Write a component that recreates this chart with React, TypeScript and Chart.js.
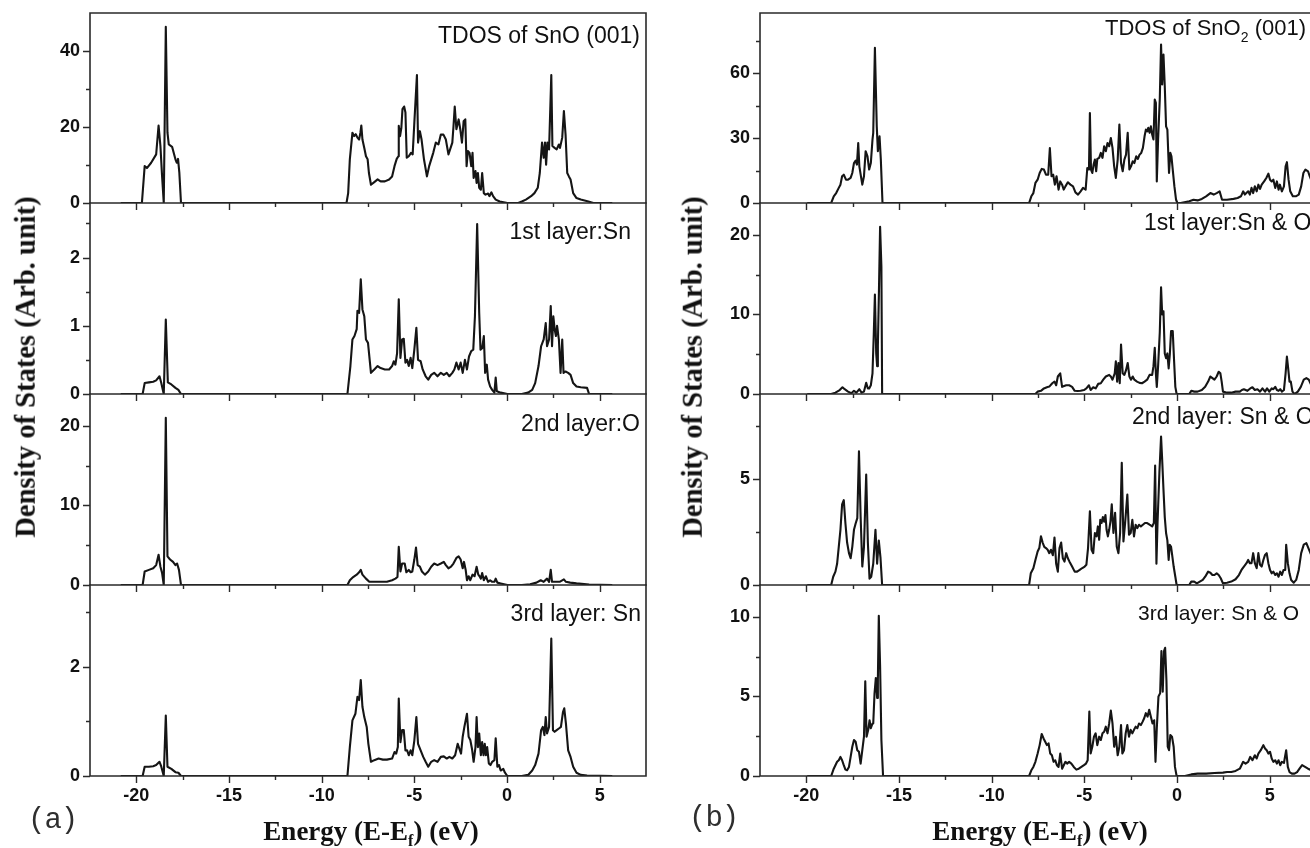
import React, { useEffect, useRef } from 'react';
import { Chart, registerables } from 'chart.js';

Chart.register(...registerables);

type Pt = [number, number];

// ---------- axis ticks ----------
const xMajorTicks = [-20, -15, -10, -5, 0, 5];
const xMinorTicks = [-17.5, -12.5, -7.5, -2.5, 2.5];
const X_MIN = -22.5;
const X_MAX = 7.5;

// ---------- (a) SnO (001) ----------
const snoTotal: Pt[] = [
  [-20.84, 0], [-19.7, 0], [-19.55, 9.7], [-19.43, 9.2], [-19.2, 10.6], [-18.93, 12.8], [-18.8, 20.4], [-18.7, 15.0],
  [-18.61, 7.0], [-18.52, 0], [-18.41, 46.4], [-18.32, 18.5], [-18.25, 15.4], [-18.07, 14.8], [-17.89, 11.5], [-17.82, 10.6],
  [-17.75, 11.6], [-17.68, 8.0], [-17.59, 0], [-8.66, 0], [-8.57, 2.6], [-8.48, 11.5], [-8.34, 18.5], [-8.25, 17.6],
  [-8.16, 18.1], [-8.07, 17.2], [-7.98, 16.7], [-7.91, 18.5], [-7.86, 20.4], [-7.8, 16.7], [-7.7, 14.5], [-7.61, 12.3],
  [-7.52, 11.5], [-7.45, 7.9], [-7.34, 4.8], [-7.16, 5.5], [-6.98, 6.2], [-6.82, 5.7], [-6.59, 5.7], [-6.36, 6.2],
  [-6.2, 7.0], [-6.07, 9.7], [-5.95, 11.6], [-5.86, 12.3], [-5.84, 20.3], [-5.77, 17.6], [-5.7, 19.8], [-5.64, 24.7],
  [-5.55, 25.4], [-5.48, 23.8], [-5.41, 11.9], [-5.3, 12.3], [-5.18, 13.2], [-5.09, 12.8], [-5.0, 21.1], [-4.86, 33.7],
  [-4.8, 15.9], [-4.7, 18.9], [-4.61, 16.7], [-4.48, 11.5], [-4.32, 7.0], [-4.2, 9.7], [-3.98, 13.2], [-3.84, 15.9],
  [-3.7, 15.4], [-3.57, 18.0], [-3.43, 18.0], [-3.3, 16.7], [-3.16, 12.8], [-3.07, 14.1], [-2.95, 15.9], [-2.89, 20.0],
  [-2.82, 25.4], [-2.73, 19.4], [-2.61, 22.0], [-2.52, 19.4], [-2.43, 15.9], [-2.34, 21.5], [-2.25, 22.0], [-2.18, 9.7],
  [-2.11, 13.7], [-2.02, 13.2], [-1.93, 9.7], [-1.86, 13.2], [-1.8, 6.6], [-1.7, 8.4], [-1.64, 5.3], [-1.57, 7.9],
  [-1.5, 4.0], [-1.41, 3.5], [-1.34, 7.9], [-1.25, 2.6], [-1.16, 2.2], [-1.02, 2.5], [-0.95, 1.8], [-0.84, 2.8],
  [-0.75, 1.8], [-0.61, 0.9], [-0.39, 0.4], [0.02, 0], [0.61, 0], [0.8, 0.4], [1.02, 0.9], [1.3, 1.8],
  [1.48, 2.6], [1.66, 4.0], [1.77, 7.9], [1.89, 15.9], [1.98, 11.9], [2.05, 15.9], [2.11, 10.1], [2.18, 15.9],
  [2.27, 14.1], [2.39, 33.7], [2.45, 15.0], [2.57, 14.5], [2.68, 14.1], [2.8, 15.4], [2.86, 14.5], [2.98, 17.2],
  [3.07, 24.2], [3.16, 18.0], [3.25, 7.9], [3.34, 7.0], [3.43, 6.2], [3.57, 2.6], [3.75, 1.3], [3.98, 0.9],
  [4.39, 0.4], [4.66, 0], [5.68, 0],
];

const snoLayer1Sn: Pt[] = [
  [-20.84, 0], [-19.66, 0], [-19.55, 0.16], [-19.32, 0.17], [-19.09, 0.18], [-18.93, 0.2], [-18.75, 0.26], [-18.66, 0.17],
  [-18.52, 0], [-18.41, 1.09], [-18.3, 0.17], [-18.11, 0.14], [-17.89, 0.09], [-17.73, 0.06], [-17.59, 0], [-8.61, 0],
  [-8.45, 0.41], [-8.34, 0.8], [-8.23, 0.85], [-8.11, 0.95], [-8.07, 1.22], [-7.98, 1.19], [-7.89, 1.68], [-7.8, 1.24],
  [-7.7, 1.14], [-7.61, 0.8], [-7.5, 0.75], [-7.34, 0.31], [-7.16, 0.36], [-6.98, 0.41], [-6.82, 0.38], [-6.59, 0.36],
  [-6.36, 0.36], [-6.2, 0.41], [-6.11, 0.48], [-6.02, 0.43], [-5.93, 0.6], [-5.84, 1.39], [-5.75, 0.53], [-5.66, 0.8],
  [-5.57, 0.81], [-5.48, 0.46], [-5.39, 0.5], [-5.3, 0.41], [-5.2, 0.53], [-5.11, 0.38], [-5.0, 0.65], [-4.89, 0.97],
  [-4.8, 0.5], [-4.66, 0.48], [-4.55, 0.36], [-4.39, 0.26], [-4.25, 0.21], [-4.09, 0.28], [-3.93, 0.31], [-3.75, 0.26],
  [-3.57, 0.31], [-3.41, 0.28], [-3.25, 0.31], [-3.11, 0.26], [-2.95, 0.31], [-2.84, 0.36], [-2.73, 0.46], [-2.61, 0.36],
  [-2.5, 0.46], [-2.39, 0.31], [-2.27, 0.5], [-2.16, 0.36], [-2.05, 0.55], [-1.93, 0.63], [-1.82, 0.65], [-1.73, 1.14],
  [-1.61, 2.49], [-1.5, 1.19], [-1.43, 0.65], [-1.34, 0.67], [-1.25, 0.85], [-1.18, 0.31], [-1.09, 0.43], [-1.02, 0.21],
  [-0.91, 0.11], [-0.8, 0.06], [-0.68, 0.02], [-0.61, 0.24], [-0.55, 0.04], [-0.34, 0.02], [0.02, 0], [0.8, 0],
  [1.14, 0.02], [1.36, 0.06], [1.52, 0.16], [1.7, 0.41], [1.84, 0.7], [1.98, 0.8], [2.09, 1.04], [2.16, 0.7],
  [2.27, 0.8], [2.36, 1.29], [2.43, 0.7], [2.5, 1.14], [2.57, 0.95], [2.64, 0.85], [2.7, 1.0], [2.8, 0.8],
  [2.89, 0.31], [2.98, 0.8], [3.05, 0.31], [3.16, 0.33], [3.3, 0.31], [3.43, 0.28], [3.57, 0.16], [3.75, 0.11],
  [3.98, 0.1], [4.32, 0.09], [4.43, 0], [5.68, 0],
];

const snoLayer2O: Pt[] = [
  [-20.84, 0], [-19.66, 0], [-19.55, 1.7], [-19.32, 1.9], [-19.09, 2.1], [-18.93, 2.5], [-18.8, 3.8], [-18.7, 2.3],
  [-18.61, 1.5], [-18.52, 0], [-18.41, 21.0], [-18.32, 3.6], [-18.18, 3.2], [-18.02, 2.9], [-17.89, 2.5], [-17.8, 2.7],
  [-17.7, 1.9], [-17.59, 0], [-8.61, 0], [-8.48, 0.6], [-8.3, 1.0], [-8.11, 1.3], [-7.98, 1.6], [-7.89, 1.9],
  [-7.8, 1.3], [-7.61, 0.8], [-7.43, 0.4], [-7.16, 0.4], [-6.82, 0.4], [-6.48, 0.4], [-6.2, 0.6], [-6.02, 0.8],
  [-5.91, 1.0], [-5.84, 4.8], [-5.75, 1.7], [-5.66, 2.7], [-5.52, 2.7], [-5.43, 1.6], [-5.3, 1.9], [-5.2, 1.6],
  [-5.11, 1.7], [-5.0, 3.2], [-4.91, 4.7], [-4.82, 2.5], [-4.7, 2.3], [-4.59, 1.7], [-4.43, 1.3], [-4.25, 1.7],
  [-4.09, 2.3], [-3.93, 2.7], [-3.75, 2.5], [-3.57, 2.7], [-3.41, 2.9], [-3.3, 2.5], [-3.16, 2.1], [-3.02, 2.3],
  [-2.89, 2.7], [-2.73, 3.4], [-2.61, 3.6], [-2.5, 3.2], [-2.39, 2.1], [-2.32, 2.9], [-2.23, 1.9], [-2.16, 0.6],
  [-2.07, 1.1], [-1.98, 0.6], [-1.86, 1.3], [-1.75, 1.1], [-1.64, 2.3], [-1.55, 1.3], [-1.48, 1.1], [-1.41, 0.8],
  [-1.34, 1.5], [-1.25, 0.6], [-1.14, 1.1], [-1.02, 0.4], [-0.91, 0.6], [-0.8, 0.4], [-0.68, 0.4], [-0.61, 0.8],
  [-0.52, 0.3], [-0.34, 0.2], [0.02, 0], [0.8, 0], [1.25, 0.1], [1.59, 0.3], [1.82, 0.6], [1.98, 0.4],
  [2.16, 0.8], [2.27, 0.4], [2.36, 1.9], [2.43, 0.4], [2.57, 0.4], [2.84, 0.4], [3.07, 0.7], [3.18, 0.4],
  [3.41, 0.3], [3.75, 0.2], [4.43, 0.05], [5.68, 0],
];

const snoLayer3Sn: Pt[] = [
  [-20.84, 0], [-19.66, 0], [-19.55, 0.17], [-19.32, 0.17], [-19.09, 0.18], [-18.93, 0.2], [-18.75, 0.26], [-18.66, 0.18],
  [-18.52, 0], [-18.41, 1.11], [-18.32, 0.17], [-18.11, 0.13], [-17.89, 0.07], [-17.73, 0.06], [-17.59, 0], [-8.61, 0],
  [-8.48, 0.53], [-8.34, 1.02], [-8.18, 1.14], [-8.07, 1.45], [-7.98, 1.39], [-7.89, 1.76], [-7.8, 1.27], [-7.7, 1.08],
  [-7.57, 0.9], [-7.48, 0.59], [-7.34, 0.26], [-7.16, 0.29], [-6.93, 0.32], [-6.7, 0.3], [-6.48, 0.3], [-6.2, 0.32],
  [-6.07, 0.44], [-5.98, 0.41], [-5.89, 0.53], [-5.84, 1.42], [-5.75, 0.62], [-5.66, 0.84], [-5.57, 0.84], [-5.48, 0.47],
  [-5.39, 0.47], [-5.3, 0.38], [-5.2, 0.47], [-5.11, 0.38], [-5.0, 0.65], [-4.89, 1.08], [-4.8, 0.59], [-4.66, 0.47],
  [-4.52, 0.35], [-4.39, 0.26], [-4.25, 0.17], [-4.09, 0.26], [-3.93, 0.29], [-3.75, 0.26], [-3.57, 0.35], [-3.41, 0.36],
  [-3.25, 0.32], [-3.11, 0.35], [-2.95, 0.32], [-2.8, 0.38], [-2.66, 0.59], [-2.57, 0.5], [-2.48, 0.41], [-2.39, 0.72],
  [-2.3, 0.9], [-2.16, 1.14], [-2.07, 0.72], [-1.98, 0.66], [-1.89, 0.5], [-1.8, 0.26], [-1.7, 0.53], [-1.64, 1.08],
  [-1.57, 0.53], [-1.5, 0.78], [-1.41, 0.38], [-1.34, 0.62], [-1.27, 0.38], [-1.2, 0.59], [-1.14, 0.38], [-1.07, 0.53],
  [-0.98, 0.23], [-0.89, 0.2], [-0.8, 0.26], [-0.68, 0.29], [-0.61, 0.69], [-0.52, 0.17], [-0.43, 0.2], [-0.34, 0.1],
  [-0.2, 0.13], [-0.11, 0.06], [0.02, 0], [0.8, 0], [1.14, 0.02], [1.36, 0.1], [1.52, 0.2], [1.7, 0.41],
  [1.84, 0.84], [1.93, 0.9], [2.02, 0.75], [2.09, 1.08], [2.16, 0.78], [2.27, 0.9], [2.39, 2.52], [2.48, 0.84],
  [2.57, 0.81], [2.68, 0.84], [2.8, 0.87], [2.91, 0.9], [3.02, 1.17], [3.09, 1.24], [3.18, 0.96], [3.3, 0.47],
  [3.43, 0.35], [3.57, 0.17], [3.75, 0.06], [3.98, 0.02], [4.32, 0.01], [5.68, 0],
];

// ---------- (b) SnO2 (001) ----------
const sno2Total: Pt[] = [
  [-19.95, 0], [-18.66, 0], [-18.52, 3.1], [-18.39, 4.6], [-18.25, 7.0], [-18.16, 8.5], [-18.07, 12.4], [-17.98, 13.1],
  [-17.86, 10.8], [-17.75, 10.8], [-17.61, 11.6], [-17.52, 13.9], [-17.43, 18.5], [-17.34, 19.6], [-17.27, 17.8], [-17.2, 27.8],
  [-17.14, 17.0], [-16.98, 8.5], [-16.89, 12.4], [-16.8, 24.0], [-16.7, 21.6], [-16.61, 15.5], [-16.52, 18.5], [-16.43, 29.4],
  [-16.39, 32.5], [-16.3, 71.9], [-16.2, 35.5], [-16.14, 24.0], [-16.05, 30.9], [-15.98, 20.0], [-15.89, 0], [-7.98, 0],
  [-7.86, 3.1], [-7.75, 4.6], [-7.64, 9.3], [-7.52, 10.8], [-7.41, 13.9], [-7.3, 15.8], [-7.18, 15.5], [-7.07, 13.1],
  [-6.95, 13.1], [-6.86, 25.5], [-6.77, 12.4], [-6.68, 13.1], [-6.59, 8.5], [-6.5, 12.4], [-6.39, 6.2], [-6.3, 10.0],
  [-6.2, 8.5], [-6.11, 6.2], [-6.02, 7.7], [-5.89, 9.6], [-5.75, 8.5], [-5.61, 7.7], [-5.48, 4.9], [-5.34, 3.9],
  [-5.2, 5.4], [-5.07, 7.0], [-4.93, 6.2], [-4.84, 16.2], [-4.75, 15.5], [-4.7, 41.7], [-4.64, 15.5], [-4.57, 13.9],
  [-4.5, 17.8], [-4.43, 20.1], [-4.36, 14.7], [-4.3, 20.4], [-4.2, 20.9], [-4.11, 23.2], [-4.02, 20.9], [-3.93, 26.3],
  [-3.84, 24.0], [-3.75, 27.8], [-3.66, 26.3], [-3.57, 30.1], [-3.48, 25.5], [-3.39, 17.0], [-3.3, 11.6], [-3.2, 20.1],
  [-3.11, 36.3], [-3.02, 18.5], [-2.93, 14.7], [-2.84, 20.1], [-2.75, 22.4], [-2.66, 32.5], [-2.57, 15.5], [-2.48, 17.0],
  [-2.39, 19.3], [-2.3, 18.5], [-2.2, 21.6], [-2.11, 20.4], [-2.02, 22.4], [-1.93, 23.2], [-1.84, 25.5], [-1.75, 30.9],
  [-1.68, 34.0], [-1.61, 33.2], [-1.55, 34.8], [-1.48, 32.5], [-1.41, 35.5], [-1.34, 31.7], [-1.27, 29.4], [-1.2, 47.9],
  [-1.14, 46.4], [-1.09, 10.0], [-1.02, 29.4], [-0.93, 47.9], [-0.86, 73.4], [-0.8, 54.9], [-0.73, 68.8], [-0.66, 54.1],
  [-0.59, 35.5], [-0.52, 34.0], [-0.43, 13.9], [-0.36, 23.2], [-0.3, 21.6], [-0.23, 15.5], [-0.14, 7.7], [-0.05, 1.5],
  [0.02, 0], [0.2, 0], [0.66, 0.8], [0.89, 1.5], [1.11, 1.2], [1.34, 1.9], [1.57, 3.1], [1.8, 4.6],
  [1.98, 3.9], [2.14, 4.6], [2.3, 5.4], [2.43, 1.5], [2.7, 1.5], [3.05, 1.9], [3.27, 2.3], [3.45, 3.1],
  [3.57, 5.4], [3.66, 3.9], [3.84, 5.4], [3.93, 3.9], [4.02, 7.0], [4.11, 4.6], [4.2, 7.7], [4.3, 5.4],
  [4.39, 8.5], [4.48, 6.5], [4.57, 8.5], [4.7, 10.0], [4.82, 11.6], [4.93, 13.6], [5.02, 10.8], [5.11, 10.0],
  [5.2, 10.8], [5.3, 7.0], [5.39, 10.0], [5.48, 6.2], [5.55, 8.5], [5.66, 5.4], [5.77, 7.7], [5.86, 17.0],
  [5.93, 18.9], [6.02, 10.8], [6.11, 5.4], [6.25, 3.1], [6.41, 3.1], [6.57, 3.9], [6.7, 7.7], [6.82, 13.9],
  [6.93, 15.5], [7.07, 14.7], [7.16, 12.4], [7.36, 8.0],
];

const sno2Layer1: Pt[] = [
  [-19.95, 0], [-18.66, 0], [-18.43, 0.17], [-18.2, 0.5], [-18.05, 0.85], [-17.93, 0.6], [-17.75, 0.3], [-17.57, 0.1],
  [-17.43, 0.4], [-17.3, 0.17], [-17.14, 0.6], [-17.02, 0.17], [-16.89, 0.3], [-16.77, 1.4], [-16.68, 0.7], [-16.61, 0.7],
  [-16.52, 1.1], [-16.43, 2.6], [-16.36, 7.6], [-16.3, 12.5], [-16.23, 5.1], [-16.18, 3.5], [-16.14, 6.0], [-16.09, 12.0],
  [-16.02, 21.0], [-15.95, 16.0], [-15.91, 0], [-7.64, 0], [-7.52, 0.3], [-7.34, 0.4], [-7.18, 0.7], [-7.02, 0.85],
  [-6.89, 0.93], [-6.73, 1.35], [-6.61, 1.56], [-6.52, 1.1], [-6.43, 2.2], [-6.3, 2.6], [-6.2, 0.9], [-6.09, 1.0],
  [-5.98, 1.1], [-5.82, 1.1], [-5.66, 0.9], [-5.52, 0.4], [-5.36, 0.38], [-5.2, 0.4], [-5.02, 0.5], [-4.89, 0.7],
  [-4.75, 1.1], [-4.66, 0.5], [-4.52, 0.85], [-4.39, 0.7], [-4.25, 1.27], [-4.11, 1.35], [-3.98, 1.8], [-3.84, 2.2],
  [-3.75, 2.3], [-3.66, 2.4], [-3.57, 2.2], [-3.48, 1.8], [-3.36, 2.6], [-3.3, 4.1], [-3.23, 1.56], [-3.16, 3.9],
  [-3.09, 1.35], [-3.02, 6.2], [-2.93, 2.6], [-2.84, 2.4], [-2.75, 3.0], [-2.66, 3.9], [-2.57, 2.2], [-2.48, 1.8],
  [-2.39, 2.2], [-2.3, 1.8], [-2.16, 1.56], [-2.02, 1.4], [-1.89, 1.35], [-1.75, 1.56], [-1.61, 1.8], [-1.48, 2.4],
  [-1.34, 2.4], [-1.27, 3.5], [-1.2, 5.8], [-1.14, 2.6], [-1.09, 0.9], [-1.02, 3.5], [-0.93, 7.7], [-0.86, 13.4],
  [-0.8, 10.0], [-0.73, 10.4], [-0.66, 5.1], [-0.59, 4.5], [-0.52, 5.1], [-0.45, 3.2], [-0.39, 4.9], [-0.32, 7.9],
  [-0.23, 7.9], [-0.16, 4.3], [-0.09, 0.9], [-0.02, 0], [0.66, 0], [0.77, 0.4], [0.93, 0.3], [1.11, 0.3],
  [1.34, 0.5], [1.52, 0.9], [1.68, 1.56], [1.8, 2.2], [1.91, 2.0], [2.02, 1.8], [2.14, 2.2], [2.25, 2.8],
  [2.34, 2.6], [2.41, 1.56], [2.48, 0.3], [2.7, 0.17], [2.93, 0.17], [3.16, 0.3], [3.39, 0.3], [3.5, 0.5],
  [3.61, 0.6], [3.8, 0.4], [3.95, 0.7], [4.07, 0.85], [4.2, 0.5], [4.34, 0.6], [4.48, 0.3], [4.61, 0.7],
  [4.75, 0.3], [4.86, 0.7], [4.98, 0.3], [5.11, 0.7], [5.2, 0.6], [5.3, 0.9], [5.39, 0.5], [5.48, 0.4],
  [5.57, 0.6], [5.66, 0.3], [5.77, 0.5], [5.86, 2.6], [5.93, 4.7], [6.0, 3.2], [6.07, 1.56], [6.14, 1.56],
  [6.23, 0.3], [6.34, 0], [6.52, 0.3], [6.68, 0.9], [6.84, 1.8], [6.98, 2.0], [7.11, 1.8], [7.25, 1.1],
];

const sno2Layer2: Pt[] = [
  [-19.95, 0], [-18.66, 0], [-18.55, 0.39], [-18.43, 0.63], [-18.34, 1.0], [-18.25, 1.8], [-18.16, 2.6], [-18.07, 3.8],
  [-17.98, 4.0], [-17.89, 2.9], [-17.8, 2.0], [-17.7, 1.5], [-17.61, 1.26], [-17.52, 1.8], [-17.43, 2.6], [-17.34, 2.9],
  [-17.25, 3.15], [-17.16, 6.3], [-17.07, 3.2], [-16.98, 0.87], [-16.89, 1.8], [-16.77, 5.2], [-16.68, 2.0], [-16.59, 0.3],
  [-16.5, 0.39], [-16.39, 1.0], [-16.27, 2.6], [-16.18, 1.0], [-16.09, 2.1], [-16.0, 1.3], [-15.91, 0], [-7.98, 0],
  [-7.89, 0.55], [-7.75, 0.79], [-7.64, 1.18], [-7.52, 1.58], [-7.43, 1.74], [-7.34, 2.3], [-7.25, 2.0], [-7.16, 1.8],
  [-7.07, 1.74], [-6.98, 1.66], [-6.89, 1.5], [-6.8, 1.66], [-6.7, 1.4], [-6.61, 2.24], [-6.52, 1.0], [-6.43, 0.63],
  [-6.34, 1.74], [-6.25, 2.0], [-6.16, 1.26], [-6.07, 1.1], [-5.98, 1.5], [-5.89, 1.26], [-5.8, 1.1], [-5.66, 0.87],
  [-5.52, 0.63], [-5.39, 0.63], [-5.25, 0.71], [-5.11, 0.8], [-4.98, 0.87], [-4.89, 0.95], [-4.8, 1.74], [-4.7, 3.47],
  [-4.61, 1.66], [-4.52, 1.5], [-4.43, 2.45], [-4.34, 2.29], [-4.27, 2.76], [-4.2, 2.13], [-4.14, 3.07], [-4.07, 2.92],
  [-4.0, 3.2], [-3.93, 2.98], [-3.86, 3.3], [-3.8, 2.6], [-3.73, 2.29], [-3.66, 2.6], [-3.59, 3.0], [-3.52, 3.8],
  [-3.43, 2.45], [-3.34, 3.4], [-3.25, 1.8], [-3.16, 1.5], [-3.07, 2.45], [-2.98, 5.76], [-2.89, 2.05], [-2.8, 2.92],
  [-2.68, 4.26], [-2.59, 2.37], [-2.5, 2.45], [-2.41, 3.07], [-2.32, 2.29], [-2.23, 2.84], [-2.14, 2.68], [-2.05, 2.84],
  [-1.95, 2.76], [-1.84, 2.84], [-1.73, 2.92], [-1.61, 2.92], [-1.48, 2.84], [-1.34, 2.76], [-1.25, 2.92], [-1.18, 5.63],
  [-1.11, 1.0], [-1.05, 2.92], [-0.95, 5.3], [-0.86, 7.0], [-0.8, 5.9], [-0.73, 4.5], [-0.66, 3.2], [-0.59, 2.45],
  [-0.52, 2.1], [-0.45, 1.18], [-0.39, 1.9], [-0.32, 1.8], [-0.25, 1.34], [-0.18, 0.87], [-0.09, 0.39], [-0.02, 0],
  [0.66, 0], [0.77, 0.16], [0.93, 0.16], [1.07, 0.08], [1.23, 0.16], [1.39, 0.24], [1.52, 0.39], [1.68, 0.63],
  [1.8, 0.58], [1.91, 0.47], [2.02, 0.47], [2.14, 0.55], [2.25, 0.47], [2.36, 0.32], [2.48, 0.08], [2.7, 0.11],
  [2.93, 0.16], [3.16, 0.27], [3.34, 0.47], [3.48, 0.71], [3.61, 0.87], [3.75, 1.03], [3.84, 1.18], [3.93, 1.03],
  [4.02, 1.03], [4.11, 1.5], [4.2, 1.03], [4.3, 0.79], [4.39, 1.5], [4.48, 0.95], [4.57, 0.87], [4.66, 1.18],
  [4.75, 1.42], [4.84, 1.5], [4.93, 1.03], [5.02, 0.71], [5.11, 0.55], [5.2, 0.63], [5.3, 0.47], [5.39, 0.55],
  [5.48, 0.39], [5.57, 0.63], [5.66, 0.47], [5.75, 0.71], [5.84, 0.71], [5.89, 1.9], [5.98, 1.03], [6.07, 0.55],
  [6.16, 0.24], [6.3, 0.11], [6.43, 0.24], [6.57, 0.71], [6.7, 1.5], [6.84, 1.9], [6.98, 1.97], [7.09, 1.74],
  [7.25, 1.4],
];

const sno2Layer3: Pt[] = [
  [-19.95, 0], [-18.66, 0], [-18.52, 0.46], [-18.43, 0.68], [-18.34, 0.89], [-18.25, 0.99], [-18.16, 1.2], [-18.07, 0.99],
  [-17.98, 0.68], [-17.89, 0.4], [-17.8, 0.36], [-17.7, 0.57], [-17.61, 1.2], [-17.52, 1.84], [-17.43, 2.26], [-17.34, 2.15],
  [-17.25, 1.62], [-17.16, 1.52], [-17.07, 0.78], [-16.98, 1.62], [-16.89, 2.47], [-16.82, 5.95], [-16.75, 2.47], [-16.66, 2.9],
  [-16.59, 3.5], [-16.52, 3.0], [-16.43, 3.3], [-16.39, 3.3], [-16.32, 5.2], [-16.25, 6.16], [-16.18, 4.9], [-16.14, 6.05],
  [-16.09, 10.06], [-16.02, 6.9], [-15.95, 2.26], [-15.86, 0], [-7.98, 0], [-7.86, 0.36], [-7.75, 0.57], [-7.64, 0.89],
  [-7.52, 1.41], [-7.41, 1.94], [-7.3, 2.64], [-7.2, 2.36], [-7.11, 2.15], [-7.02, 1.94], [-6.93, 2.05], [-6.84, 1.41],
  [-6.75, 1.3], [-6.66, 0.89], [-6.57, 0.99], [-6.48, 0.68], [-6.39, 0.57], [-6.3, 1.41], [-6.2, 0.46], [-6.11, 0.68],
  [-6.02, 0.89], [-5.93, 0.78], [-5.82, 0.89], [-5.7, 0.78], [-5.57, 0.57], [-5.43, 0.4], [-5.3, 0.46], [-5.16, 0.57],
  [-5.02, 0.68], [-4.91, 0.78], [-4.82, 0.99], [-4.73, 4.05], [-4.66, 1.41], [-4.57, 1.84], [-4.48, 2.47], [-4.39, 2.68],
  [-4.3, 1.94], [-4.2, 2.47], [-4.11, 2.26], [-4.02, 2.68], [-3.93, 2.78], [-3.84, 3.1], [-3.75, 2.68], [-3.66, 3.3],
  [-3.57, 4.11], [-3.48, 3.3], [-3.39, 1.84], [-3.3, 2.47], [-3.2, 1.3], [-3.11, 1.84], [-3.02, 3.2], [-2.95, 1.41],
  [-2.86, 1.62], [-2.77, 2.68], [-2.68, 3.2], [-2.59, 2.47], [-2.5, 2.9], [-2.41, 2.68], [-2.32, 2.9], [-2.23, 3.1],
  [-2.14, 3.0], [-2.05, 3.3], [-1.95, 3.2], [-1.86, 3.4], [-1.77, 3.63], [-1.68, 3.95], [-1.59, 3.73], [-1.5, 4.16],
  [-1.41, 3.73], [-1.32, 3.3], [-1.23, 3.5], [-1.16, 0.89], [-1.09, 3.0], [-1.0, 5.0], [-0.91, 5.2], [-0.84, 7.85],
  [-0.77, 5.3], [-0.7, 7.85], [-0.64, 8.06], [-0.57, 6.0], [-0.5, 1.84], [-0.43, 1.62], [-0.36, 2.57], [-0.27, 2.47],
  [-0.18, 1.84], [-0.11, 0.57], [-0.02, 0], [0.43, 0], [0.77, 0.1], [1.11, 0.15], [1.57, 0.15], [2.02, 0.19],
  [2.48, 0.21], [2.7, 0.25], [2.93, 0.25], [3.16, 0.32], [3.39, 0.46], [3.57, 0.89], [3.7, 0.78], [3.84, 0.89],
  [3.95, 1.2], [4.07, 0.99], [4.2, 1.3], [4.3, 1.1], [4.39, 1.41], [4.52, 1.62], [4.66, 1.94], [4.75, 1.73],
  [4.84, 1.62], [4.93, 1.41], [5.02, 1.52], [5.11, 1.1], [5.2, 0.89], [5.3, 0.99], [5.39, 0.78], [5.48, 0.99],
  [5.57, 0.68], [5.66, 0.89], [5.77, 0.82], [5.89, 1.62], [5.98, 0.57], [6.07, 0.25], [6.2, 0.15], [6.34, 0.15],
  [6.48, 0.25], [6.61, 0.46], [6.75, 0.68], [6.91, 0.57], [7.07, 0.46], [7.25, 0.36],
];

// ---------- y tick values per panel ----------
const snoTotalTicks = [0, 20, 40];
const snoTotalMinor = [10, 30];
const snoL1Ticks = [0, 1, 2];
const snoL1Minor = [0.5, 1.5, 2.5];
const snoL2Ticks = [0, 10, 20];
const snoL2Minor = [5, 15];
const snoL3Ticks = [0, 2];
const snoL3Minor = [1, 3];
const sno2TotalTicks = [0, 30, 60];
const sno2TotalMinor = [15, 45, 75];
const sno2L1Ticks = [0, 10, 20];
const sno2L1Minor = [5, 15];
const sno2L2Ticks = [0, 5];
const sno2L2Minor = [2.5, 7.5];
const sno2L3Ticks = [0, 5, 10];
const sno2L3Minor = [2.5, 7.5];

// ---------- layout ----------
const PLOT_W = 556;
const Y_AXIS_W = 70;
const PAD_T = 14;
const PAD_R = 14;
const X_AXIS_H = 14;
const X_AXIS_H_LAST = 42;
const ROWS = [
  { top: 13, bottom: 203 },
  { top: 203, bottom: 394 },
  { top: 394, bottom: 585 },
  { top: 585, bottom: 776 },
];
const FRAME_COLOR = '#2a2a2a';
const LINE_COLOR = '#151515';
const TICK_FONT = { family: '"Liberation Sans", Arial, Helvetica, sans-serif', weight: 'bold', size: 18 };

type PanelSpec = { series: Pt[]; yMax: number; yMajor: number[]; yMinor: number[] };

const leftPanels: PanelSpec[] = [
  { series: snoTotal, yMax: 50, yMajor: snoTotalTicks, yMinor: snoTotalMinor },
  { series: snoLayer1Sn, yMax: 2.8, yMajor: snoL1Ticks, yMinor: snoL1Minor },
  { series: snoLayer2O, yMax: 24, yMajor: snoL2Ticks, yMinor: snoL2Minor },
  { series: snoLayer3Sn, yMax: 3.5, yMajor: snoL3Ticks, yMinor: snoL3Minor },
];
const rightPanels: PanelSpec[] = [
  { series: sno2Total, yMax: 88, yMajor: sno2TotalTicks, yMinor: sno2TotalMinor },
  { series: sno2Layer1, yMax: 24, yMajor: sno2L1Ticks, yMinor: sno2L1Minor },
  { series: sno2Layer2, yMax: 9, yMajor: sno2L2Ticks, yMinor: sno2L2Minor },
  { series: sno2Layer3, yMax: 12, yMajor: sno2L3Ticks, yMinor: sno2L3Minor },
];

function makeFrame(yMajor: number[], yMinor: number[], drawTop: boolean) {
  return {
    id: 'frame',
    afterDraw(chart: any) {
      const { ctx, chartArea } = chart;
      const { left, right, top, bottom } = chartArea;
      const xs = chart.scales.x;
      const ys = chart.scales.y;
      ctx.save();
      ctx.strokeStyle = FRAME_COLOR;
      ctx.lineWidth = 1.6;
      ctx.lineCap = 'square';
      ctx.beginPath();
      ctx.moveTo(left, top);
      ctx.lineTo(left, bottom);
      ctx.moveTo(left, bottom);
      ctx.lineTo(right, bottom);
      ctx.moveTo(right, bottom);
      ctx.lineTo(right, top);
      if (drawTop) {
        ctx.moveTo(left, top);
        ctx.lineTo(right, top);
      }
      ctx.stroke();
      ctx.lineCap = 'butt';
      ctx.lineWidth = 1.4;
      ctx.beginPath();
      for (const v of xMajorTicks) {
        const p = Math.round(xs.getPixelForValue(v)) + 0.5;
        ctx.moveTo(p, bottom);
        ctx.lineTo(p, bottom + 7);
      }
      for (const v of xMinorTicks) {
        const p = Math.round(xs.getPixelForValue(v)) + 0.5;
        ctx.moveTo(p, bottom);
        ctx.lineTo(p, bottom + 4);
      }
      for (const v of yMajor) {
        const p = Math.round(ys.getPixelForValue(v)) + 0.5;
        ctx.moveTo(left, p);
        ctx.lineTo(left - 7, p);
      }
      for (const v of yMinor) {
        const p = Math.round(ys.getPixelForValue(v)) + 0.5;
        ctx.moveTo(left, p);
        ctx.lineTo(left - 4, p);
      }
      ctx.stroke();
      ctx.restore();
    },
  };
}

function Panel({ spec, plotLeft, row, last }: { spec: PanelSpec; plotLeft: number; row: number; last: boolean }) {
  const ref = useRef<HTMLCanvasElement>(null);
  const { top, bottom } = ROWS[row];
  const W = Y_AXIS_W + PLOT_W + PAD_R;
  const xH = last ? X_AXIS_H_LAST : X_AXIS_H;
  const H = PAD_T + (bottom - top) + xH;

  useEffect(() => {
    if (!ref.current) return;
    const chart = new Chart(ref.current, {
      type: 'line',
      data: {
        datasets: [
          {
            data: spec.series.map(([x, y]) => ({ x, y })),
            borderColor: LINE_COLOR,
            borderWidth: 2.1,
            borderJoinStyle: 'round',
            pointRadius: 0,
            tension: 0,
            fill: false,
          },
        ],
      },
      options: {
        responsive: false,
        animation: false,
        devicePixelRatio: 1,
        events: [],
        layout: { padding: { top: PAD_T, right: PAD_R, left: 0, bottom: 0 } },
        plugins: { legend: { display: false }, tooltip: { enabled: false }, title: { display: false } },
        scales: {
          x: {
            type: 'linear',
            min: X_MIN,
            max: X_MAX,
            position: 'bottom',
            afterBuildTicks: (s: any) => {
              s.ticks = xMajorTicks.map((v) => ({ value: v }));
            },
            afterFit: (s: any) => {
              s.height = xH;
            },
            grid: { drawOnChartArea: false, drawTicks: true, tickLength: 7, tickColor: 'rgba(0,0,0,0)' },
            border: { display: false },
            ticks: { display: last, font: TICK_FONT, color: '#111', padding: 2, maxRotation: 0, autoSkip: false },
          },
          y: {
            type: 'linear',
            min: 0,
            max: spec.yMax,
            position: 'left',
            afterBuildTicks: (s: any) => {
              s.ticks = spec.yMajor.map((v) => ({ value: v }));
            },
            afterFit: (s: any) => {
              s.width = Y_AXIS_W;
            },
            grid: { drawOnChartArea: false, drawTicks: true, tickLength: 7, tickColor: 'rgba(0,0,0,0)' },
            border: { display: false },
            ticks: { font: TICK_FONT, color: '#111', padding: 3, autoSkip: false },
          },
        },
      } as any,
      plugins: [makeFrame(spec.yMajor, spec.yMinor, row === 0)],
    });
    return () => chart.destroy();
  }, []);

  return (
    <canvas
      ref={ref}
      width={W}
      height={H}
      style={{ position: 'absolute', left: plotLeft - Y_AXIS_W, top: top - PAD_T, width: W, height: H }}
    />
  );
}

const sans = '"Liberation Sans", Arial, Helvetica, sans-serif';
const serif = '"Liberation Serif", "Times New Roman", Times, serif';
const mono = '"Liberation Mono", "Courier New", monospace';

function Label({ text, x, cy, size = 23, alignRight = false }: { text: React.ReactNode; x: number; cy: number; size?: number; alignRight?: boolean }) {
  const style: React.CSSProperties = {
    position: 'absolute',
    top: cy - size / 2,
    fontFamily: sans,
    fontSize: size,
    lineHeight: 1,
    whiteSpace: 'nowrap',
    color: '#111',
  };
  if (alignRight) style.right = 1310 - x;
  else style.left = x;
  return <div style={style}>{text}</div>;
}

function YTitle({ cx, cy }: { cx: number; cy: number }) {
  return (
    <div
      style={{
        position: 'absolute',
        left: cx,
        top: cy,
        transform: 'translate(-50%, -50%) rotate(-90deg)',
        fontFamily: serif,
        fontWeight: 'bold',
        fontSize: 28.5,
        lineHeight: 1,
        whiteSpace: 'nowrap',
        color: '#111',
      }}
    >
      Density of States (Arb. unit)
    </div>
  );
}

function XTitle({ cx, top }: { cx: number; top: number }) {
  return (
    <div
      style={{
        position: 'absolute',
        left: cx,
        top,
        transform: 'translateX(-50%)',
        fontFamily: serif,
        fontWeight: 'bold',
        fontSize: 27,
        lineHeight: 1,
        whiteSpace: 'nowrap',
        color: '#111',
      }}
    >
      Energy (E-E<span style={{ fontSize: 16, position: 'relative', top: 6 }}>f</span>) (eV)
    </div>
  );
}

function Tag({ text, x, top }: { text: string; x: number; top: number }) {
  return (
    <div
      style={{
        position: 'absolute',
        left: x,
        top,
        fontFamily: mono,
        fontSize: 29,
        lineHeight: 1,
        color: '#2e2e2e',
        whiteSpace: 'pre',
        letterSpacing: -1,
      }}
    >
      {text}
    </div>
  );
}

export default function App() {
  return (
    <div style={{ position: 'fixed', left: 0, top: 0, width: 1310, height: 848, overflow: 'hidden', background: '#fff' }}>
      {leftPanels.map((p, i) => (
        <Panel key={'l' + i} spec={p} plotLeft={90} row={i} last={i === 3} />
      ))}
      {rightPanels.map((p, i) => (
        <Panel key={'r' + i} spec={p} plotLeft={760} row={i} last={i === 3} />
      ))}

      <Label text="TDOS of SnO (001)" x={640} cy={35} alignRight />
      <Label text="1st layer:Sn" x={631} cy={231} alignRight />
      <Label text="2nd layer:O" x={640} cy={423} alignRight />
      <Label text="3rd layer: Sn" x={641} cy={613} alignRight />

      <Label
        text={
          <>
            TDOS of SnO<span style={{ fontSize: 14, position: 'relative', top: 7 }}>2</span> (001)
          </>
        }
        x={1105}
        cy={28}
        size={22}
      />
      <Label text="1st layer:Sn & O" x={1144} cy={222} />
      <Label text="2nd layer: Sn & O" x={1132} cy={416} />
      <Label text="3rd layer: Sn & O" x={1138} cy={612} size={21} />

      <YTitle cx={26} cy={367} />
      <YTitle cx={693} cy={367} />
      <XTitle cx={371} top={818} />
      <XTitle cx={1040} top={818} />
      <Tag text="(a)" x={28} top={806} />
      <Tag text="(b)" x={689} top={804} />
    </div>
  );
}
